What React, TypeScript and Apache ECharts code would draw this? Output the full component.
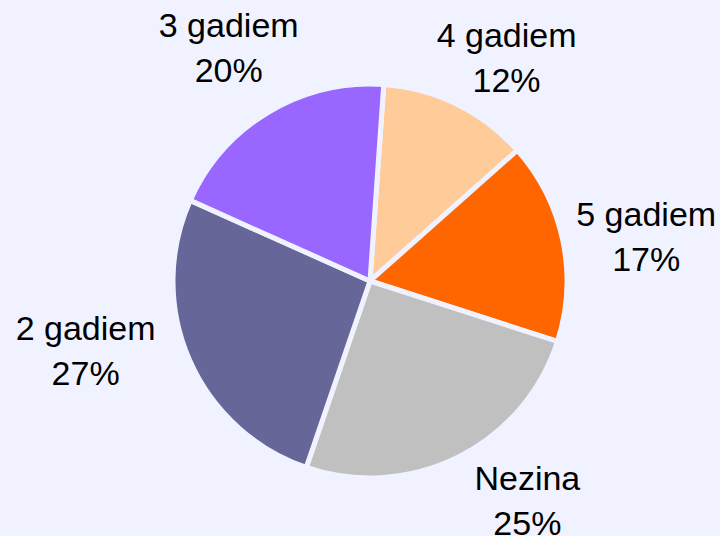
import React, { useEffect, useRef } from "react";
import * as echarts from "echarts";

const categories = ["4 gadiem", "5 gadiem", "Nezina", "2 gadiem", "3 gadiem"];
const values = [12.4, 16.6, 25.4, 26.6, 19.5];
const colors = ["#FFCC99", "#FF6600", "#C0C0C0", "#666699", "#9966FF"];

// label nudges (layout only)
const labelDx = [16, 9, 35, -34, -1];
const labelDy = [21, 12, -25, -39, 1];

const BG = "#F0F3FF";

export default function App() {
  const ref = useRef<HTMLDivElement>(null);
  useEffect(() => {
    document.body.style.margin = "0";
    const chart = echarts.init(ref.current!, undefined, { renderer: "svg" });
    const data = categories.map((name, i) => ({
      name,
      value: values[i],
      itemStyle: { color: colors[i] },
    }));
    chart.setOption({
      animation: false,
      backgroundColor: BG,
      series: [
        {
          type: "pie",
          center: [370, 281],
          radius: [0, 197],
          startAngle: 86,
          clockwise: true,
          data,
          itemStyle: { borderColor: BG, borderWidth: 5 },
          label: { show: false },
          labelLine: { show: false },
          silent: true,
        },
        {
          type: "pie",
          center: [370, 281],
          radius: [260, 280],
          startAngle: 86,
          clockwise: true,
          data: categories.map((name, i) => ({ name, value: values[i] })),
          itemStyle: { color: "rgba(0,0,0,0)" },
          silent: true,
          label: {
            show: true,
            position: "inside",
            formatter: (p: any) => `${p.name}\n${Math.round(p.value)}%`,
            fontFamily: "Liberation Sans, Arial, sans-serif",
            fontSize: 34,
            lineHeight: 45,
            color: "#000",
            align: "center",
          },
          labelLine: { show: false },
          labelLayout: (p: any) => ({ dx: labelDx[p.dataIndex], dy: labelDy[p.dataIndex] }),
        },
      ],
    });
    return () => chart.dispose();
  }, []);
  return <div ref={ref} style={{ width: 720, height: 536 }} />;
}
